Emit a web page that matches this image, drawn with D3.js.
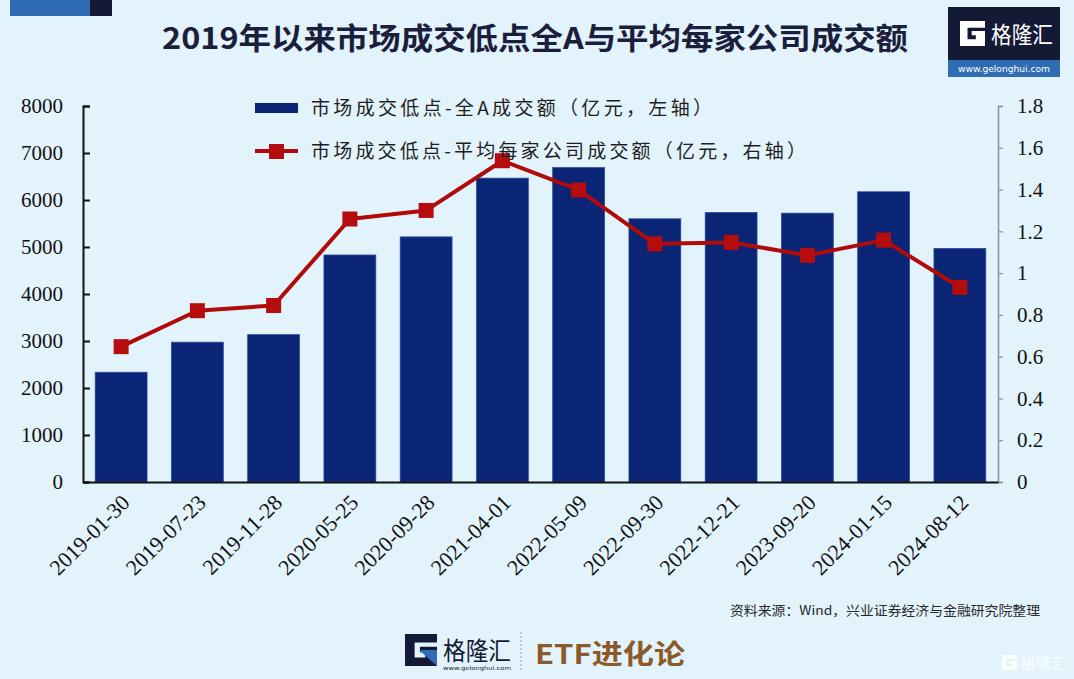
<!DOCTYPE html>
<html>
<head>
<meta charset="utf-8">
<script src="https://cdn.jsdelivr.net/npm/d3@7"></script>
<style>
  html, body { margin: 0; padding: 0; background: #e3f3fb; }
  svg { display: block; }
</style>
</head>
<body>
<svg id="chart" width="1074" height="679"></svg>
<script>
const categories = ["2019-01-30","2019-07-23","2019-11-28","2020-05-25","2020-09-28","2021-04-01","2022-05-09","2022-09-30","2022-12-21","2023-09-20","2024-01-15","2024-08-12"];
const totalTurnover = [2335, 2975, 3135, 4830, 5215, 6465, 6690, 5600, 5735, 5720, 6175, 4970];
const avgTurnover = [0.648, 0.82, 0.845, 1.259, 1.30, 1.538, 1.398, 1.14, 1.147, 1.085, 1.158, 0.932];
const leftTicks = [0, 1000, 2000, 3000, 4000, 5000, 6000, 7000, 8000];
const rightTicks = [0, 0.2, 0.4, 0.6, 0.8, 1, 1.2, 1.4, 1.6, 1.8];
const titleText = "2019年以来市场成交低点全A与平均每家公司成交额";
const legendBar = "市场成交低点-全A成交额（亿元，左轴）";
const legendLine = "市场成交低点-平均每家公司成交额（亿元，右轴）";
const sourceText = "资料来源：Wind，兴业证券经济与金融研究院整理";

const svg = d3.select("#chart");
const W = 1074, H = 679;
const M = {left: 83, right: 998, top: 106, bottom: 482};
const CJK = "'Noto Sans CJK SC', 'Noto Sans', sans-serif";
const SERIF = "'Liberation Serif', 'DejaVu Serif', serif";

svg.append("rect").attr("width", W).attr("height", H).attr("fill", "#e3f3fb");

// top-left decoration
svg.append("rect").attr("x", 10).attr("y", 0).attr("width", 80).attr("height", 16).attr("fill", "#2f6cb3");
svg.append("rect").attr("x", 90).attr("y", 0).attr("width", 22).attr("height", 16).attr("fill", "#141a36");

// title
svg.append("text").attr("x", 535).attr("y", 49)
  .attr("text-anchor", "middle")
  .attr("font-family", CJK).attr("font-weight", "bold").attr("font-size", 30)
  .attr("fill", "#1b1e3c")
  .attr("textLength", 746).attr("lengthAdjust", "spacingAndGlyphs")
  .text(titleText);

// G logo path helper
function gPath(x, y, s) {
  const p = d3.path();
  const u = s / 30;
  const pts = [[0,0],[30,0],[30,8],[9,8],[9,22],[19,22],[19,17],[14,17],[14,12],[30,12],[30,30],[0,30]];
  pts.forEach((q, i) => i === 0 ? p.moveTo(x + q[0]*u, y + q[1]*u) : p.lineTo(x + q[0]*u, y + q[1]*u));
  p.closePath();
  return p.toString();
}

// top-right logo
svg.append("rect").attr("x", 948).attr("y", 7).attr("width", 112).attr("height", 53).attr("fill", "#141a36");
svg.append("rect").attr("x", 948).attr("y", 60).attr("width", 112).attr("height", 17).attr("fill", "#2f6cb3");
svg.append("path").attr("d", gPath(960, 21, 25)).attr("fill", "#ffffff");
svg.append("text").attr("x", 991).attr("y", 43).attr("font-family", CJK).attr("font-size", 23)
  .attr("fill", "#ffffff").attr("textLength", 62).attr("lengthAdjust", "spacingAndGlyphs").text("格隆汇");
svg.append("text").attr("x", 1004).attr("y", 72).attr("text-anchor", "middle")
  .attr("font-family", "'DejaVu Sans', sans-serif").attr("font-size", 9).attr("fill", "#ffffff")
  .attr("textLength", 92).attr("lengthAdjust", "spacingAndGlyphs").text("www.gelonghui.com");

// scales
const x = d3.scaleBand().domain(categories).range([M.left, M.right]).paddingInner(0.32).paddingOuter(0.16);
const yL = d3.scaleLinear().domain([0, 8000]).range([M.bottom, M.top]);
const yR = d3.scaleLinear().domain([0, 1.8]).range([M.bottom, M.top]);

// bars
svg.append("g").selectAll("rect").data(categories).join("rect")
  .attr("x", d => x(d))
  .attr("y", (d, i) => yL(totalTurnover[i]))
  .attr("width", x.bandwidth())
  .attr("height", (d, i) => M.bottom - yL(totalTurnover[i]))
  .attr("fill", "#0a2476")
  .attr("stroke", "#2d4c9c").attr("stroke-width", 0.8);

// left axis
const axL = svg.append("g").attr("transform", `translate(${M.left},0)`)
  .call(d3.axisLeft(yL).tickValues(leftTicks).tickSize(-7).tickPadding(20).tickFormat(d3.format("d")));
axL.select(".domain").attr("stroke", "#111").attr("stroke-width", 2);
axL.selectAll(".tick line").attr("stroke", "#111").attr("stroke-width", 2);
axL.selectAll(".tick text").attr("font-family", SERIF).attr("font-size", 21).attr("fill", "#111");

// right axis
const axR = svg.append("g").attr("transform", `translate(${M.right},0)`)
  .call(d3.axisRight(yR).tickValues(rightTicks).tickSize(5).tickPadding(14)
    .tickFormat(d => d === 0 || d === 1 ? String(d) : d3.format(".1f")(d)));
axR.select(".domain").attr("stroke", "#8a9097").attr("stroke-width", 1.5);
axR.selectAll(".tick line").attr("stroke", "#8a9097").attr("stroke-width", 1.2);
axR.selectAll(".tick text").attr("font-family", SERIF).attr("font-size", 21).attr("fill", "#111");

// bottom axis
const axB = svg.append("g").attr("transform", `translate(0,${M.bottom})`)
  .call(d3.axisBottom(x).tickSize(0).tickPadding(0));
axB.select(".domain").attr("stroke", "#111").attr("stroke-width", 2);
axB.selectAll(".tick text")
  .attr("font-family", SERIF).attr("font-size", 22).attr("fill", "#111")
  .attr("text-anchor", "end")
  .attr("dy", 0)
  .attr("transform", "translate(10,22) rotate(-45)");

// line
const cx = d => x(d) + x.bandwidth() / 2;
const line = d3.line().x((d, i) => cx(categories[i])).y(d => yR(d));
svg.append("path").datum(avgTurnover).attr("d", line)
  .attr("fill", "none").attr("stroke", "#b00b0b").attr("stroke-width", 4).attr("stroke-linejoin", "round");
svg.append("g").selectAll("rect").data(avgTurnover).join("rect")
  .attr("x", (d, i) => cx(categories[i]) - 7.5)
  .attr("y", d => yR(d) - 7.5)
  .attr("width", 15).attr("height", 15)
  .attr("fill", "#b50d0d");

// legend
const lg = svg.append("g");
lg.append("rect").attr("x", 255).attr("y", 103).attr("width", 43).attr("height", 10).attr("fill", "#0a2476");
lg.append("text").attr("x", 311).attr("y", 115)
  .attr("font-family", CJK).attr("font-size", 19).attr("fill", "#1e1e1e")
  .attr("textLength", 401).attr("lengthAdjust", "spacing").text(legendBar);
lg.append("line").attr("x1", 255).attr("x2", 298).attr("y1", 151).attr("y2", 151)
  .attr("stroke", "#b00b0b").attr("stroke-width", 4);
lg.append("rect").attr("x", 269).attr("y", 144).attr("width", 15).attr("height", 15).attr("fill", "#b50d0d");
lg.append("text").attr("x", 311).attr("y", 158)
  .attr("font-family", CJK).attr("font-size", 19).attr("fill", "#1e1e1e")
  .attr("textLength", 495).attr("lengthAdjust", "spacing").text(legendLine);

// source
svg.append("text").attr("x", 1040).attr("y", 615).attr("text-anchor", "end")
  .attr("font-family", CJK).attr("font-size", 13).attr("fill", "#2a2a2a")
  .attr("textLength", 310).attr("lengthAdjust", "spacingAndGlyphs").text(sourceText);

// bottom brand
svg.append("path").attr("d", gPath(405, 634, 32)).attr("fill", "#141a36");
svg.append("path").attr("d", "M419,650 L437,650 L437,666 Z").attr("fill", "#2f6cb3");
svg.append("text").attr("x", 443).attr("y", 660).attr("font-family", CJK).attr("font-size", 25)
  .attr("fill", "#141a36").attr("textLength", 68).attr("lengthAdjust", "spacingAndGlyphs").text("格隆汇");
svg.append("text").attr("x", 443).attr("y", 670).attr("font-family", "'DejaVu Sans', sans-serif")
  .attr("font-size", 5.5).attr("fill", "#141a36")
  .attr("textLength", 68).attr("lengthAdjust", "spacingAndGlyphs").text("www.gelonghui.com");
svg.append("line").attr("x1", 521).attr("x2", 521).attr("y1", 632).attr("y2", 672)
  .attr("stroke", "#8a9aae").attr("stroke-width", 1).attr("stroke-dasharray", "2,2");
svg.append("text").attr("x", 535).attr("y", 664).attr("font-family", CJK).attr("font-weight", "bold")
  .attr("font-size", 27).attr("fill", "#8b5a2b")
  .attr("textLength", 150).attr("lengthAdjust", "spacingAndGlyphs").text("ETF进化论");

// bottom-right watermark
svg.append("path").attr("d", gPath(1002, 655, 15)).attr("fill", "#ffffff").attr("opacity", 0.85);
svg.append("text").attr("x", 1020).attr("y", 669).attr("font-family", CJK).attr("font-size", 15)
  .attr("fill", "#ffffff").attr("opacity", 0.85)
  .attr("textLength", 47).attr("lengthAdjust", "spacingAndGlyphs").text("格隆汇");
</script>
</body>
</html>
